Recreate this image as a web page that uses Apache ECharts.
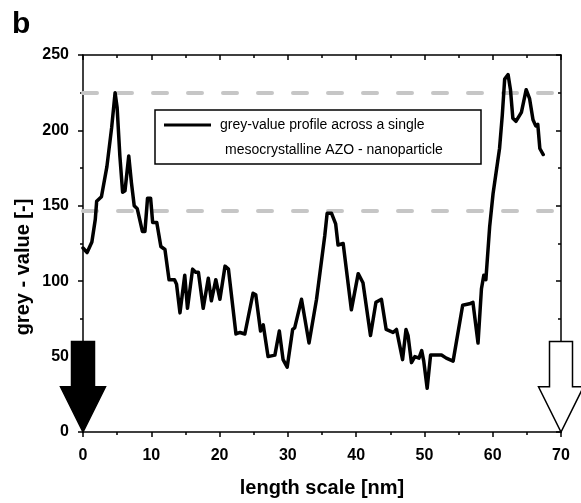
<!DOCTYPE html>
<html>
<head>
<meta charset="utf-8">
<script src="https://cdn.jsdelivr.net/npm/echarts@6/dist/echarts.min.js"></script>
<style>
html,body{margin:0;padding:0;background:#fff;}
#c{width:581px;height:503px;}
</style>
</head>
<body>
<div id="c"></div>
<script>
// length scale [nm]
const lengthNm = [0.0,0.6,1.3,1.8,2.0,2.7,3.5,4.2,4.7,5.0,5.4,5.8,6.15,6.7,7.1,7.5,7.95,8.7,9.07,9.45,9.9,10.2,10.8,11.4,12.0,12.6,13.4,13.7,14.2,14.9,15.3,16.05,16.5,16.9,17.6,18.35,18.8,19.45,20.05,20.8,21.3,22.4,23.0,23.7,24.9,25.3,26.0,26.4,27.1,28.1,28.75,29.3,29.9,30.7,31.0,32.0,33.1,34.2,35.4,35.75,36.4,37.0,37.35,38.1,39.3,40.3,41.0,42.1,42.9,43.7,44.4,45.4,45.9,46.8,47.3,47.6,48.1,48.6,49.2,49.6,49.9,50.4,50.9,51.3,52.5,53.2,54.2,55.6,56.6,57.1,57.85,58.35,58.7,59.0,59.55,60.05,61.0,61.4,61.75,62.25,62.6,62.95,63.4,64.2,64.9,65.4,65.9,66.3,66.6,66.9,67.4];
// grey value [-]
const greyValue = [122,119,126,141,153,156,176,202,225,215,183,159,160,183,165,150,148,133,133,155,155,139,139,123,121,101,101,98,79,104,82,108,106,106,82,102,87,101,88,110,108,65,66,65,92,91,67,71,50,51,67,48,43,68,69,88,59,88,130,145,145,138,124,125,81,105,99,64,86,88,68,66,68,48,68,64,46,50,49,54,47,29,51,51,51,49,47,84,85,86,59,95,104,101,136,158,188,210,234,237,227,208,206,212,227,221,207,203,204,188,184];
// dashed reference levels
const refLevels = [225, 147];
// arrows: position on length axis, shaft top value, head base value
const arrowPos = [0, 70];
const arrowShaftTop = 60;
const arrowHeadBase = 30;

const xTicks = {min: 0, max: 70, interval: 10};
const yTicks = {min: 0, max: 250, interval: 50};

const profile = lengthNm.map((x, i) => [x, greyValue[i]]);
const arrows = arrowPos.map(x => [x, arrowShaftTop, arrowHeadBase]);

const chart = echarts.init(document.getElementById('c'), null, {renderer: 'canvas'});
const FONT = 'Liberation Sans, Arial, sans-serif';
const axisLine = {show: true, onZero: false, lineStyle: {color: '#000', width: 1.5}};

chart.setOption({
  animation: false,
  backgroundColor: '#fff',
  grid: {left: 83, right: 20, top: 55, bottom: 64, containLabel: false},
  xAxis: [{
    type: 'value', position: 'bottom', min: xTicks.min, max: xTicks.max, interval: xTicks.interval,
    axisLine: axisLine,
    axisTick: {show: true, length: 5, inside: false, lineStyle: {color: '#000', width: 1.5}},
    minorTick: {show: true, splitNumber: 2, length: 3, lineStyle: {color: '#000', width: 1.5}},
    splitLine: {show: false},
    axisLabel: {color: '#000', fontFamily: FONT, fontWeight: 'bold', fontSize: 16, margin: 16},
    name: 'length scale [nm]', nameLocation: 'middle', nameGap: 46,
    nameTextStyle: {color: '#000', fontFamily: FONT, fontWeight: 'bold', fontSize: 20}
  }, {
    type: 'value', position: 'top', min: xTicks.min, max: xTicks.max, interval: xTicks.interval,
    axisLine: axisLine,
    axisTick: {show: true, length: 5, inside: true, lineStyle: {color: '#000', width: 1.5}},
    minorTick: {show: true, splitNumber: 2, length: 3, lineStyle: {color: '#000', width: 1.5}},
    splitLine: {show: false}, axisLabel: {show: false}
  }],
  yAxis: [{
    type: 'value', position: 'left', min: yTicks.min, max: yTicks.max, interval: yTicks.interval,
    axisLine: axisLine,
    axisTick: {show: true, length: 5, inside: false, lineStyle: {color: '#000', width: 1.5}},
    minorTick: {show: true, splitNumber: 2, length: 3, lineStyle: {color: '#000', width: 1.5}},
    splitLine: {show: false},
    axisLabel: {color: '#000', fontFamily: FONT, fontWeight: 'bold', fontSize: 16, margin: 14}
  }, {
    type: 'value', position: 'right', min: yTicks.min, max: yTicks.max, interval: yTicks.interval,
    axisLine: axisLine,
    axisTick: {show: true, length: 5, inside: true, lineStyle: {color: '#000', width: 1.5}},
    minorTick: {show: true, splitNumber: 2, length: 3, lineStyle: {color: '#000', width: 1.5}},
    splitLine: {show: false}, axisLabel: {show: false}
  }],
  series: [{
    type: 'line', name: 'profile', data: profile, xAxisIndex: 0, yAxisIndex: 0,
    showSymbol: false, symbol: 'none', smooth: false, z: 5,
    lineStyle: {color: '#000', width: 3.5, cap: 'round', join: 'round'},
    markLine: {
      silent: true, symbol: 'none', label: {show: false}, z: 1,
      lineStyle: {color: '#c6c6c6', width: 4, type: [14, 21], cap: 'round'},
      data: refLevels.map(v => ({yAxis: v}))
    }
  }, {
    type: 'custom', name: 'arrows', data: arrows, xAxisIndex: 0, yAxisIndex: 0, clip: false, z: 10,
    renderItem: function (params, api) {
      const x = api.value(0);
      const top = api.coord([x, api.value(1)]);
      const base = api.coord([x, api.value(2)]);
      const tip = api.coord([x, 0]);
      const cx = top[0];
      const sw = 11.5, hw = 22.5;
      const pts = [[cx - sw, top[1]], [cx + sw, top[1]], [cx + sw, base[1]], [cx + hw, base[1]],
                   [cx, tip[1]], [cx - hw, base[1]], [cx - sw, base[1]]];
      const filled = params.dataIndex === 0;
      return {
        type: 'polygon', shape: {points: pts},
        style: {fill: filled ? '#000' : '#fff', stroke: '#000', lineWidth: 1.5}
      };
    }
  }],
  graphic: [
    {type: 'text', left: 12, top: 10, style: {text: 'b', font: 'bold 30px ' + FONT, fill: '#000'}},
    {type: 'text', x: 23, y: 267, rotation: Math.PI / 2, style: {text: 'grey - value [-]', font: 'bold 20px ' + FONT, fill: '#000', align: 'center', verticalAlign: 'middle'}},
    {type: 'rect', shape: {x: 155, y: 110, width: 326, height: 54}, style: {fill: '#fff', stroke: '#000', lineWidth: 1.5}, z: 20},
    {type: 'line', shape: {x1: 164, y1: 125, x2: 211, y2: 125}, style: {stroke: '#000', lineWidth: 3}, z: 21},
    {type: 'text', x: 220, y: 125, style: {text: 'grey-value profile across a single', font: '14px ' + FONT, fill: '#000', verticalAlign: 'middle'}, z: 21},
    {type: 'text', x: 225, y: 150, style: {text: 'mesocrystalline AZO - nanoparticle', font: '14px ' + FONT, fill: '#000', verticalAlign: 'middle'}, z: 21}
  ]
});
</script>
</body>
</html>
